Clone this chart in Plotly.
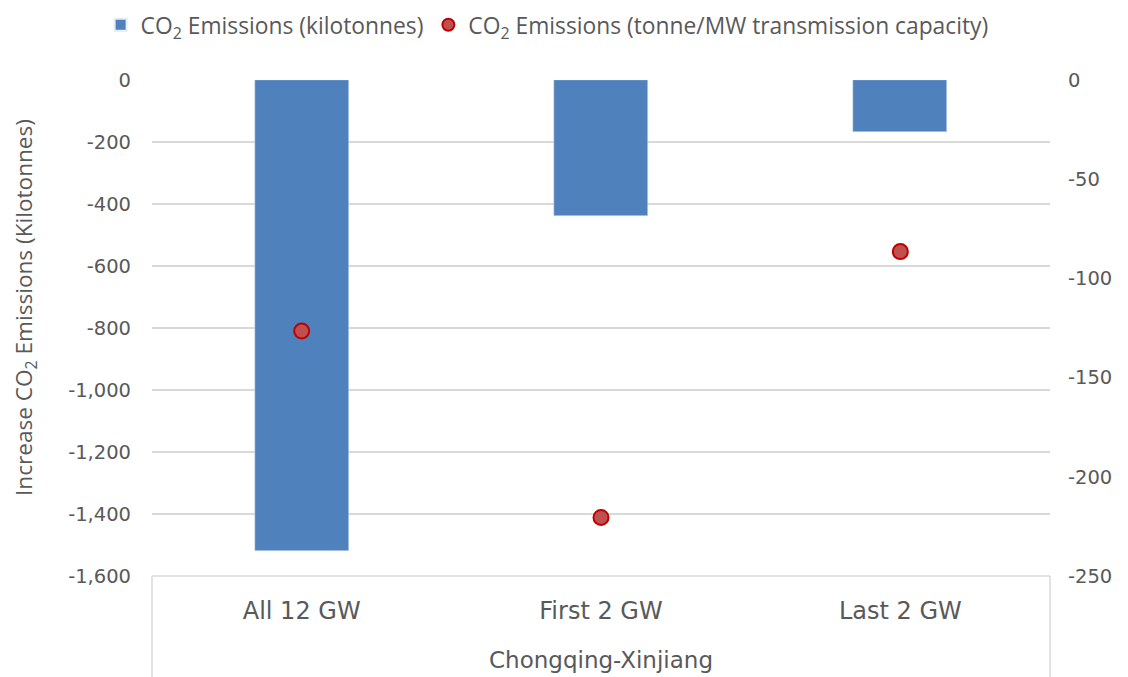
import plotly.graph_objects as go

categories = ["All 12 GW", "First 2 GW", "Last 2 GW"]
group_label = "Chongqing-Xinjiang"
y_title = "Increase CO<sub>2</sub> Emissions (Kilotonnes)"
kilotonnes = [-1520, -440, -168]
tonne_per_mw = [-126.5, -220.5, -86.5]
left_ticks = [0, -200, -400, -600, -800, -1000, -1200, -1400, -1600]
right_ticks = [0, -50, -100, -150, -200, -250]

grey = "#595959"
fig = go.Figure()
fig.add_trace(go.Bar(
    x=categories, y=kilotonnes, name="CO<sub>2</sub> Emissions (kilotonnes)",
    marker=dict(color="#4F81BD"), width=0.315, yaxis="y",
))
fig.add_trace(go.Scatter(
    x=categories, y=tonne_per_mw, mode="markers",
    name="CO<sub>2</sub> Emissions (tonne/MW transmission capacity)",
    marker=dict(size=15, color="#C0504D", line=dict(color="#C00000", width=2)),
    yaxis="y2",
))

# page body has an 8px margin, so the figure is sized to the visible area
W, H = 1120, 669
plot_h, plot_w = 496, 898
fig.update_layout(
    width=W, height=H,
    margin=dict(l=144, r=78, t=72, b=101, autoexpand=False),
    plot_bgcolor="white", paper_bgcolor="white",
    font=dict(family="Open Sans", color=grey, size=22),
    showlegend=True,
    legend=dict(orientation="h", x=0.44, xanchor="center", xref="paper",
                y=1 + 55 / plot_h, yref="paper", yanchor="middle",
                font=dict(size=22.8, family="Open Sans", color=grey),
                itemsizing="constant", traceorder="normal"),
    bargap=0,
    xaxis=dict(showgrid=False, showline=False, ticks="", automargin=False,
               tickfont=dict(size=24, family="DejaVu Sans", color=grey),
               ticklabelstandoff=18),
    yaxis=dict(range=[-1600, 0], tickvals=left_ticks,
               ticktext=[f"{v:,}" for v in left_ticks],
               showgrid=True, gridcolor="#D9D9D9", gridwidth=1.5, zeroline=False,
               automargin=False,
               tickfont=dict(size=19.5, family="DejaVu Sans", color=grey),
               ticklabelstandoff=20),
    yaxis2=dict(range=[-250, 0], tickvals=right_ticks,
                ticktext=[f"{v:,}" for v in right_ticks],
                overlaying="y", side="right", automargin=False,
                showgrid=False, zeroline=False,
                tickfont=dict(size=19.5, family="DejaVu Sans", color=grey),
                ticklabelstandoff=17),
)

# left axis title, placed as in the reference
fig.add_annotation(text=y_title, xref="paper", yref="paper",
                   x=-127 / plot_w, y=268 / plot_h, textangle=-90,
                   xanchor="center", yanchor="middle", showarrow=False,
                   font=dict(size=22.6, family="Open Sans", color=grey))

# x-axis category box (Excel multi-level axis)
box_h = 101 / plot_h
line = dict(color="#D9D9D9", width=1.5)
fig.add_shape(type="line", xref="paper", yref="paper", x0=0, x1=1, y0=0, y1=0, line=line)
fig.add_shape(type="line", xref="paper", yref="paper", x0=0, x1=0, y0=0, y1=-box_h, line=line)
fig.add_shape(type="line", xref="paper", yref="paper", x0=1, x1=1, y0=0, y1=-box_h, line=line)
fig.add_annotation(text=group_label, xref="paper", yref="paper", x=0.5, y=-84 / plot_h,
                   yanchor="middle", showarrow=False,
                   font=dict(size=23, family="DejaVu Sans", color=grey))

fig.write_html("out.html")
